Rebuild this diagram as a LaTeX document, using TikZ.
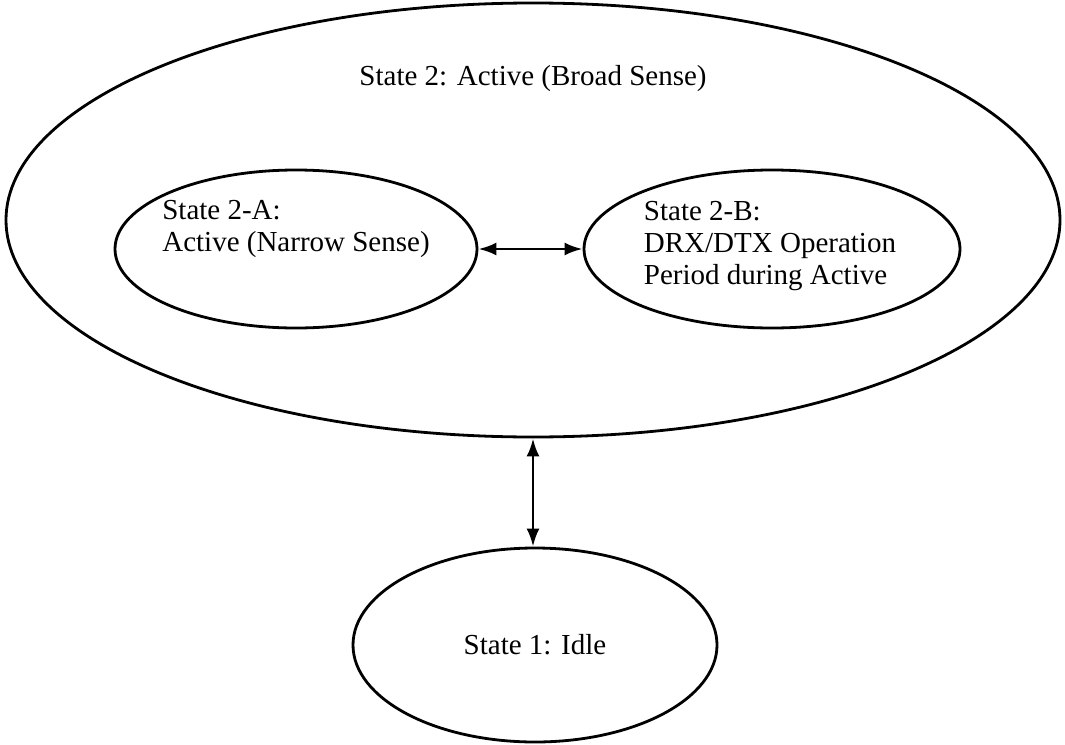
\documentclass[tikz,border=0pt]{standalone}
\usepackage{fontspec}
\setmainfont{Liberation Serif}
\usetikzlibrary{arrows.meta,positioning,shapes.geometric}
\tikzset{
  st state/.style={draw=black, ellipse, line width=2.8pt, inner sep=0pt},
  st text/.style={font=\fontsize{29}{32}\selectfont, align=left, text=black},
  st link/.style={
    draw=black,
    line width=2.8pt,
    {Latex[length=18pt,width=13pt]}-{Latex[length=18pt,width=13pt]}
  }
}
\begin{document}
\begin{tikzpicture}[x=1pt,y=-1pt]
  \useasboundingbox[fill=white] (0,0) rectangle (1065,744);

  % outer state and its two sub-states
  \node[st state, minimum width=1054pt, minimum height=434pt] (active) at (533,220) {};
  \node[st text, below=60pt of active.north] (activeText) {State 2: Active (Broad Sense)};
  \node[st state, minimum width=362pt, minimum height=158pt] (narrow) at (296,249) {};
  \node[st state, minimum width=376pt, minimum height=158pt] (drx) at (772,249) {};
  \node[st text] (narrowText) at (296,229) {State 2-A:\\Active (Narrow Sense)};
  \node[st text] (drxText) at (770,246) {State 2-B:\\DRX/DTX Operation\\Period during Active};

  % idle state
  \node[st state, minimum width=364pt, minimum height=194pt] (idle) at (535,645) {};
  \node[st text] (idleText) at (idle.center) {State 1: Idle};

  \draw[st link] (narrow.east) -- (drx.west);
  \draw[st link] (active.south) -- (active.south |- idle.north);
\end{tikzpicture}
\end{document}
